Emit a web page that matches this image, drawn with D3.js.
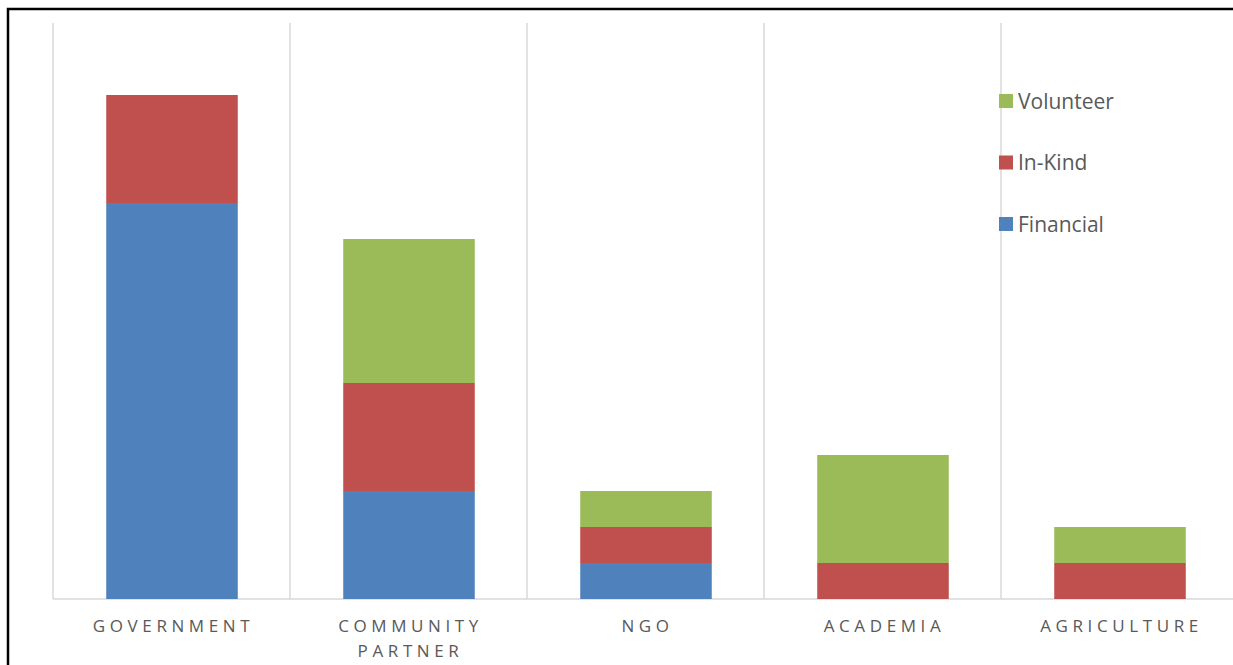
<!DOCTYPE html>
<html><head><meta charset="utf-8">
<script src="https://cdn.jsdelivr.net/npm/d3@7"></script>
<style>body{margin:0;background:#fff;}svg{display:block;}</style>
</head><body>
<script>
const categories = ["GOVERNMENT", "COMMUNITY PARTNER", "NGO", "ACADEMIA", "AGRICULTURE"];
const seriesNames = ["Financial", "In-Kind", "Volunteer"];
const financial = [11, 3, 1, 0, 0];
const inKind = [3, 3, 1, 1, 1];
const volunteer = [0, 4, 1, 3, 1];
const colors = ["#4f81bd", "#c0504d", "#9bbb59"];

const W = 1233, H = 665;
const svg = d3.select("body").append("svg").attr("width", W).attr("height", H);
svg.append("rect").attr("x", 8).attr("y", 9).attr("width", 1240).attr("height", 680)
  .attr("fill", "#fff").attr("stroke", "#000").attr("stroke-width", 2.5);

const x0 = 53, x1 = 1238, yTop = 23, yBase = 599;
const x = d3.scaleBand().domain(categories).range([x0, x1]).paddingInner(0.445).paddingOuter(0.2225);
const bandStep = x.step();
const y = d3.scaleLinear().domain([0, 16]).range([yBase, yTop]);

// vertical gridlines at category boundaries
const bounds = d3.range(categories.length + 1).map(i => x0 + i * bandStep);
svg.append("g").selectAll("line").data(bounds).join("line")
  .attr("x1", d => d).attr("x2", d => d).attr("y1", yTop).attr("y2", yBase)
  .attr("stroke", "#d9d9d9").attr("stroke-width", 1.5);
svg.append("line").attr("x1", x0).attr("x2", x1).attr("y1", yBase).attr("y2", yBase)
  .attr("stroke", "#d9d9d9").attr("stroke-width", 1.5);

const table = categories.map((c, i) => ({cat: c, Financial: financial[i], "In-Kind": inKind[i], Volunteer: volunteer[i]}));
const stacked = d3.stack().keys(seriesNames)(table);
svg.append("g").selectAll("g").data(stacked).join("g")
  .attr("fill", (d, i) => colors[i])
  .selectAll("rect").data(d => d.filter(s => s[1] > s[0])).join("rect")
  .attr("x", d => x(d.data.cat) + 0.5).attr("width", x.bandwidth())
  .attr("y", d => y(d[1])).attr("height", d => y(d[0]) - y(d[1]));

// category labels
const lab = svg.append("g");
categories.forEach(c => {
  const words = c.split(" ");
  const cx = x(c) + x.bandwidth() / 2 + 2;
  const t = lab.append("text").attr("x", cx).attr("y", 632)
    .attr("text-anchor", "middle").attr("fill", "#595959")
    .style("font-family", "'Open Sans', sans-serif").style("font-size", "17px").style("letter-spacing", "4.6px");
  words.forEach((w, i) => t.append("tspan").attr("x", cx).attr("dy", i ? 25 : 0).text(w));
});

// legend
const legendItems = seriesNames.slice().reverse();
const lg = svg.append("g");
legendItems.forEach((s, i) => {
  const cy = 101 + i * 61.5;
  lg.append("rect").attr("x", 999).attr("y", cy - 7).attr("width", 14).attr("height", 14)
    .attr("fill", colors[seriesNames.indexOf(s)]);
  lg.append("text").attr("x", 1018).attr("y", cy + 7.5).attr("fill", "#595959")
    .style("font-family", "'Open Sans', sans-serif").style("font-size", "21px").text(s);
});
</script>
</body></html>
